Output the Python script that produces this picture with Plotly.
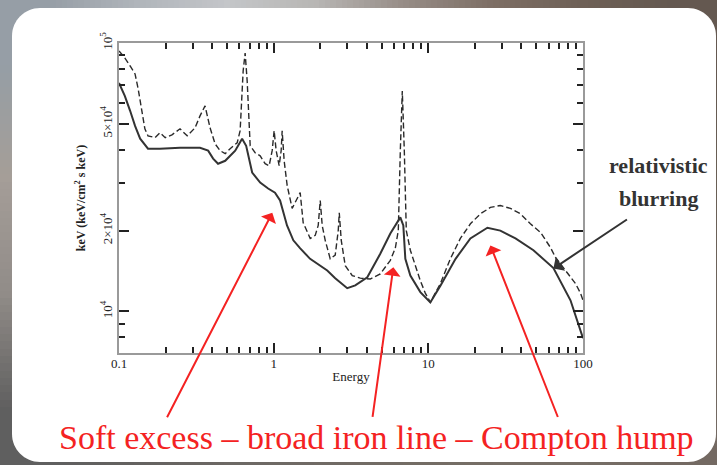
import base64
import math
import struct
import zlib

import plotly.graph_objects as go

# ---- spectrum data: energy (keV) vs keV^2 flux ----
blurred_energy = [0.1, 0.109, 0.118, 0.127, 0.137, 0.154, 0.184, 0.248, 0.334, 0.377,
                  0.406, 0.437, 0.486, 0.564, 0.625, 0.664, 0.726, 0.818, 0.921, 1.02,
                  1.10, 1.22, 1.34, 1.48, 1.72, 2.0, 2.22, 2.5, 2.99, 3.37,
                  4.03, 4.89, 5.68, 6.59, 6.89, 7.10, 7.65, 8.88, 10.3, 12.0,
                  15.0, 18.7, 24.1, 29.2, 36.6, 47.8, 64.4, 83.0, 100]
blurred_flux = [71000, 63500, 55900, 49100, 44000, 40400, 40400, 40700, 40700, 39700,
                37100, 35500, 36400, 39700, 44000, 41400, 32900, 30200, 28700, 27700,
                25900, 20900, 18400, 17200, 15700, 14800, 14200, 13300, 12200, 12500,
                13400, 16400, 19500, 22400, 20900, 15700, 13600, 11800, 10800, 12500,
                15700, 18700, 20500, 20000, 18700, 16900, 14500, 11000, 7940]

reflection_energy = [0.1, 0.109, 0.118, 0.127, 0.133, 0.139, 0.147, 0.154, 0.171, 0.184,
                     0.199, 0.220, 0.248, 0.276, 0.310, 0.334, 0.360, 0.388, 0.418, 0.451,
                     0.486, 0.523, 0.581, 0.607, 0.635, 0.654, 0.674, 0.705, 0.759, 0.818,
                     0.881, 0.935, 0.978, 1.007, 1.038, 1.085, 1.118, 1.135, 1.169, 1.223,
                     1.317, 1.398, 1.484, 1.552, 1.723, 1.856, 1.941, 2.0, 2.06, 2.154,
                     2.321, 2.5, 2.615, 2.655, 2.735, 2.903, 3.222, 3.63, 4.213, 4.89,
                     5.68, 6.115, 6.395, 6.59, 6.787, 6.993, 7.205, 7.65, 8.24, 8.88,
                     9.56, 10.3, 11.96, 13.88, 16.11, 18.71, 21.71, 25.19, 29.2, 33.95,
                     39.4, 45.7, 53.1, 61.6, 66.4, 77.0, 89.4, 96.3, 100]
reflection_flux = [93400, 88000, 82100, 76700, 67500, 58300, 47900, 45100, 44400, 46300,
                   44400, 45500, 47900, 45100, 48300, 53500, 58300, 48300, 42100, 39700,
                   38700, 40400, 42500, 47100, 78700, 91800, 72200, 41400, 39000, 38000,
                   35500, 34900, 39700, 47100, 39700, 34900, 39700, 47100, 36400, 29400,
                   24200, 25900, 27700, 21400, 18700, 19200, 20900, 25900, 20900, 18400,
                   15700, 16200, 20000, 23300, 18400, 14800, 13600, 13300, 13200, 13800,
                   15500, 17200, 20000, 39700, 66300, 39700, 20000, 16900, 14800, 13000,
                   11700, 10800, 12700, 15700, 18700, 21200, 23100, 24400, 24800, 24200,
                   23100, 21200, 19700, 17300, 15900, 14200, 12700, 11700, 11000]

x_major = [0.1, 1, 10, 100]
x_major_text = ["0.1", "1", "10", "100"]
x_minor = [0.2, 0.3, 0.4, 0.5, 0.6, 0.7, 0.8, 0.9,
           2, 3, 4, 5, 6, 7, 8, 9,
           20, 30, 40, 50, 60, 70, 80, 90]
y_major = [1e4, 2e4, 5e4, 1e5]
y_major_text = ["10<sup>4</sup>", "2×10<sup>4</sup>", "5×10<sup>4</sup>", "10<sup>5</sup>"]
y_minor = [8000, 9000, 30000, 40000, 60000, 70000, 80000, 90000]

# feature callouts: (energy, flux) of the arrow tip
soft_excess_tip = (0.98, 23300)
iron_line_tip = (5.94, 14600)
compton_tip = (25.2, 17600)
blurring_tip = (64.4, 14450)

# ---- page geometry (px) ----
W, H = 717, 465
L, R, T, B = 119, 134, 43, 112
PW, PH = W - L - R, H - T - B

X_RANGE = [-1, 2]
Y_RANGE = [3.845, 5.0]


def fx(px):
    return (px - L) / PW


def fy(py):
    return (H - B - py) / PH


def png_uri(grid):
    h, w = len(grid), len(grid[0])
    raw = b"".join(b"\x00" + bytes(v for p in row for v in p) for row in grid)

    def chunk(tag, data):
        return (struct.pack(">I", len(data)) + tag + data
                + struct.pack(">I", zlib.crc32(tag + data) & 0xFFFFFFFF))

    png = (b"\x89PNG\r\n\x1a\n"
           + chunk(b"IHDR", struct.pack(">IIBBBBB", w, h, 8, 2, 0, 0, 0))
           + chunk(b"IDAT", zlib.compress(raw))
           + chunk(b"IEND", b""))
    return "data:image/png;base64," + base64.b64encode(png).decode()


# soft backdrop behind the white card
backdrop = [
    [(150, 158, 166), (176, 181, 187), (196, 198, 201), (184, 182, 180),
     (150, 140, 134), (125, 110, 100), (110, 96, 86), (100, 88, 80)],
    [(165, 158, 152), (160, 152, 146), (150, 145, 140), (140, 132, 125),
     (130, 120, 110), (120, 108, 98), (110, 98, 88), (105, 95, 85)],
    [(145, 140, 136), (140, 135, 130), (135, 128, 122), (130, 122, 115),
     (125, 115, 106), (118, 108, 98), (112, 102, 92), (110, 100, 92)],
    [(95, 95, 95), (100, 98, 96), (108, 104, 100), (112, 106, 100),
     (115, 108, 100), (118, 110, 102), (118, 110, 102), (115, 105, 98)],
]


def rounded_rect(x0, y0, x1, y1, r):
    k = 0.5523 * r

    def p(px, py):
        return f"{fx(px):.5f},{fy(py):.5f}"

    return (f"M{p(x0 + r, y0)} L{p(x1 - r, y0)} "
            f"C{p(x1 - r + k, y0)} {p(x1, y0 + r - k)} {p(x1, y0 + r)} "
            f"L{p(x1, y1 - r)} "
            f"C{p(x1, y1 - r + k)} {p(x1 - r + k, y1)} {p(x1 - r, y1)} "
            f"L{p(x0 + r, y1)} "
            f"C{p(x0 + r - k, y1)} {p(x0, y1 - r + k)} {p(x0, y1 - r)} "
            f"L{p(x0, y0 + r)} "
            f"C{p(x0, y0 + r - k)} {p(x0 + r - k, y0)} {p(x0 + r, y0)} Z")


fig = go.Figure()
fig.add_trace(go.Scatter(
    x=reflection_energy, y=reflection_flux, mode="lines",
    line=dict(color="#2a2a2a", width=1.4, dash="6px,3px"),
    showlegend=False, hoverinfo="skip"))
fig.add_trace(go.Scatter(
    x=blurred_energy, y=blurred_flux, mode="lines",
    line=dict(color="#333333", width=2),
    showlegend=False, hoverinfo="skip"))
# empty trace that carries the overlaid long major-tick axes
fig.add_trace(go.Scatter(
    x=[1], y=[2e4], xaxis="x2", yaxis="y2", mode="markers",
    marker=dict(opacity=0), showlegend=False, hoverinfo="skip"))

serif = "Liberation Serif, Times New Roman, serif"
tick_color = "#222222"
# main axes: every decade digit gets a short tick, decades carry the labels
main_axis = dict(
    type="log", showgrid=False, zeroline=False,
    showline=True, linecolor="#9a9a9a", linewidth=2, mirror="allticks",
    ticks="inside", ticklen=6, tickwidth=1.6, tickcolor=tick_color,
    tickfont=dict(family=serif, size=13, color="#222"), tickmode="array",
)
# overlaid axes: longer ticks at the labelled values only
long_axis = dict(
    type="log", showgrid=False, zeroline=False, showline=False,
    mirror="allticks", ticks="inside", ticklen=10, tickwidth=1.6,
    tickcolor=tick_color, showticklabels=False, tickmode="array",
)

x_vals = x_major + x_minor
x_text = x_major_text + [""] * len(x_minor)
y_vals = y_major + y_minor
y_text = y_major_text + [""] * len(y_minor)

fig.update_layout(
    xaxis=dict(
        **main_axis, range=X_RANGE, tickvals=x_vals, ticktext=x_text,
        ticklabelstandoff=-3,
        title=dict(text="Energy", font=dict(family=serif, size=13, color="#222"),
                   standoff=2),
    ),
    yaxis=dict(
        **main_axis, range=Y_RANGE, tickvals=y_vals, ticktext=y_text,
        tickangle=-90,
        title=dict(text="<b>keV (keV/cm<sup>2</sup> s keV)</b>",
                   font=dict(family=serif, size=12, color="#222"), standoff=10),
    ),
    xaxis2=dict(**long_axis, range=X_RANGE, overlaying="x", side="bottom",
                anchor="y2", tickvals=x_major),
    yaxis2=dict(**long_axis, range=Y_RANGE, overlaying="y", side="left",
                anchor="x2", tickvals=y_major),
)

red = "#f42222"
annotations = []
for (e, f), (ax, ay), col in [
    (soft_excess_tip, (-106, 206), red),
    (iron_line_tip, (-21, 151), red),
    (compton_tip, (68, 173), red),
    (blurring_tip, (75, -50), "#333333"),
]:
    annotations.append(dict(
        x=math.log10(e), y=math.log10(f), xref="x", yref="y",
        ax=ax, ay=ay, axref="pixel", ayref="pixel", text="",
        showarrow=True, arrowhead=1, arrowsize=1.4, arrowwidth=2,
        arrowcolor=col))

label_font = dict(family=serif, size=22, color="#333", weight="bold")
annotations += [
    dict(text="relativistic", x=fx(658), y=fy(165), xref="paper", yref="paper",
         showarrow=False, font=label_font, xanchor="center", yanchor="middle"),
    dict(text="blurring", x=fx(658), y=fy(198), xref="paper", yref="paper",
         showarrow=False, font=label_font, xanchor="center", yanchor="middle"),
    dict(text="Soft excess – broad iron line – Compton hump",
         x=fx(376), y=fy(437), xref="paper", yref="paper", showarrow=False,
         font=dict(family=serif, size=34, color=red),
         xanchor="center", yanchor="middle"),
]

fig.update_layout(
    width=W, height=H, autosize=False,
    margin=dict(l=L, r=R, t=T, b=B, pad=0),
    paper_bgcolor="#8c8580", plot_bgcolor="white",
    annotations=annotations,
    images=[dict(source=png_uri(backdrop), xref="paper", yref="paper",
                 x=fx(0), y=fy(0), sizex=W / PW, sizey=H / PH,
                 xanchor="left", yanchor="top", sizing="stretch",
                 layer="below")],
    shapes=[dict(type="path", path=rounded_rect(12, 8, 716, 462, 28),
                 xref="paper", yref="paper", fillcolor="white",
                 line=dict(width=0), layer="below")],
)

fig.write_html("out.html")
